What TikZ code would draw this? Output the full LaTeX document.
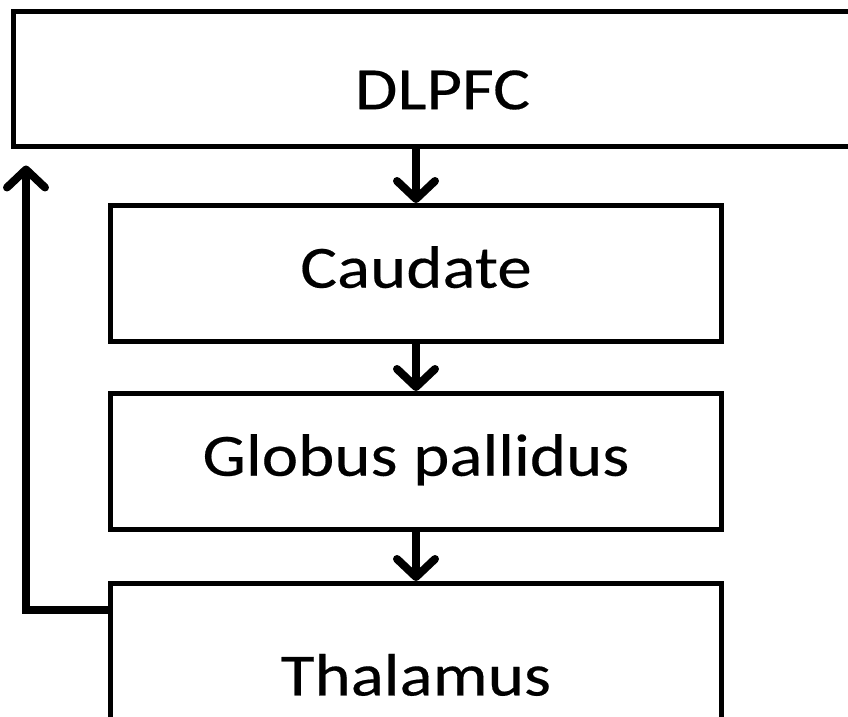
\documentclass[tikz,border=0pt]{standalone}
\usepackage{fontspec}
\setmainfont{Carlito}[FakeStretch=1.15, FakeBold=0.3]
\usetikzlibrary{arrows.meta,positioning}

\begin{document}
\begin{tikzpicture}[x=0.5pt, y=-0.5pt,
  box/.style={draw, line width=2.5pt, minimum width=305.5pt, minimum height=68.25pt,
    inner sep=0pt, text height=20pt, text depth=6pt, font=\fontsize{30}{35}\selectfont},
  flow/.style={line width=4pt,
    -{Straight Barb[length=9pt, width=19pt, line cap=round, line join=round]}}]
\useasboundingbox (0,0) rectangle (848,717);

\node[box, minimum width=429pt, minimum height=67.75pt, text height=30pt, text depth=0pt] (DLPFC) at (442.5,79.25) {DLPFC};
\node[box] (Caudate) at (416,273.75) {Caudate};
\node[box] (Globus) at (416,461.75) {Globus pallidus};
\node[box, minimum height=98pt] (Thalamus) at (416,681.5) {Thalamus};

\draw[flow] (DLPFC.south -| Caudate.north) -- (Caudate.north);
\draw[flow] (Caudate) -- (Globus);
\draw[flow] (Globus) -- (Thalamus);

% loop back to the cortex
\coordinate (loopend) at ([xshift=7.5pt,yshift=-8pt]DLPFC.south west);
\draw[flow] ([yshift=35.75pt]Thalamus.west) -| (loopend);
\end{tikzpicture}
\end{document}
